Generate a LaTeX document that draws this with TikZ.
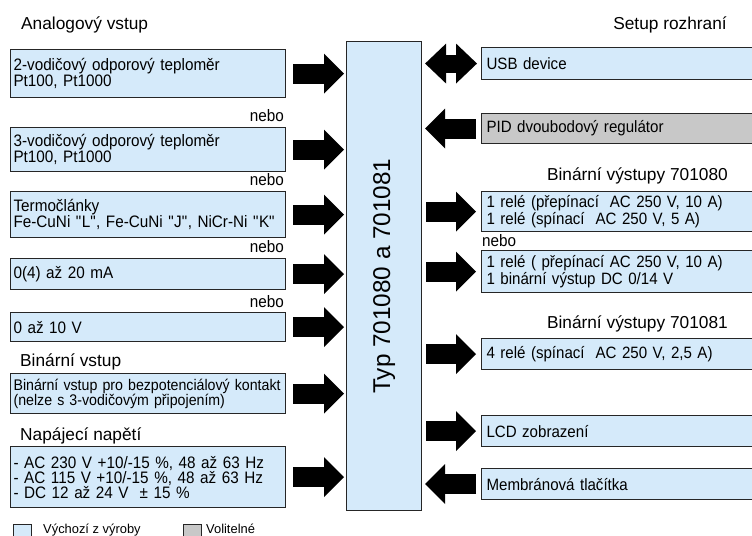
\documentclass[tikz,border=0pt]{standalone}
\usepackage{fontspec}
\setmainfont{Liberation Sans}
\newfontfamily\boxfont{Liberation Sans}[FakeStretch=0.92]
\usetikzlibrary{arrows.meta}
\definecolor{boxblue}{RGB}{213,234,250}
\definecolor{boxgrey}{RGB}{200,200,200}

\begin{document}
\begin{tikzpicture}[x=1bp, y=-1bp,
    box/.style={draw=black!85, line width=1.1bp, fill=boxblue, anchor=north west,
        inner ysep=0pt, align=left, font=\boxfont\fontsize{16.6bp}{15bp}\selectfont},
    inbox/.style={box, inner xsep=3bp, minimum width=275bp, text width=269bp},
    outbox/.style={box, inner xsep=5bp, minimum width=290bp, text width=280bp,
        font=\boxfont\fontsize{16.4bp}{17bp}\selectfont},
    head/.style={inner sep=0pt, font=\fontsize{17.3bp}{18bp}\selectfont},
    nebo/.style={inner sep=0pt, font=\boxfont\fontsize{16.6bp}{15bp}\selectfont},
    key/.style={draw=black!85, line width=1bp, anchor=north west, minimum width=18bp, minimum height=18bp, inner sep=0pt},
    keytext/.style={inner sep=0pt, anchor=base west, font=\fontsize{12.9bp}{13bp}\selectfont},
    blockarrow/.style={line width=20bp, -{Triangle[width=40bp, length=20bp, line width=0pt]}},
    twoway/.style={line width=18bp, {Triangle[width=40bp, length=21bp, line width=0pt]}-{Triangle[width=40bp, length=21bp, line width=0pt]}}
]

    \useasboundingbox (0,0) rectangle (752,536);
    \clip (0,0) rectangle (752,536);

    \node [box, minimum width=75bp, minimum height=469bp] (main) at (346,41) {};
    \node [rotate=90, inner sep=0pt, font=\fontsize{24.3bp}{25bp}\selectfont] (maintext) at (main.center) {Typ 701080 a 701081};

    \node [head, anchor=base west] (analog) at (21,30) {Analogový vstup};
    \node [inbox, minimum height=48bp] (rtd2) at (10,49) {2-vodičový odporový teploměr\\Pt100, Pt1000};

    \node [nebo, anchor=base east] (nebo1) at (284,122) {nebo};
    \node [inbox, minimum height=44bp] (rtd3) at (10,127) {3-vodičový odporový teploměr\\Pt100, Pt1000};

    \node [nebo, anchor=base east] (nebo2) at (284,186) {nebo};
    \node [inbox, minimum height=46bp] (thermo) at (10,191) {Termočlánky\\Fe-CuNi \textquotedbl L\textquotedbl, Fe-CuNi \textquotedbl J\textquotedbl, NiCr-Ni \textquotedbl K\textquotedbl};

    \node [nebo, anchor=base east] (nebo3) at (284,253) {nebo};
    \node [inbox, minimum height=31bp] (curr) at (10,258) {0(4) až 20 mA};

    \node [nebo, anchor=base east] (nebo4) at (284,307) {nebo};
    \node [inbox, minimum height=29bp] (volt) at (10,312) {0 až 10 V};

    \node [head, anchor=base west] (binlabel) at (20,366) {Binární vstup};
    \node [inbox, minimum height=40bp, font=\boxfont\fontsize{15.4bp}{15bp}\selectfont] (binin) at (10,373) {\mbox{Binární vstup pro bezpotenciálový kontakt}\\(nelze s 3-vodičovým připojením)};

    \node [head, anchor=base west] (supplylabel) at (20,440) {Napájecí napětí};
    \node [inbox, minimum height=61bp] (supply) at (10,446) {- AC 230 V +10/-15 \%, 48 až 63 Hz\\- AC 115 V +10/-15 \%, 48 až 63 Hz\\- DC 12 až 24 V\ \ ± 15 \%};

    \draw [blockarrow, shorten <=7bp, shorten >=2bp] (rtd2.east) -- (rtd2.east -| main.west);
    \draw [blockarrow, shorten <=7bp, shorten >=2bp] (rtd3.east) -- (rtd3.east -| main.west);
    \draw [blockarrow, shorten <=7bp, shorten >=2bp] (thermo.east) -- (thermo.east -| main.west);
    \draw [blockarrow, shorten <=7bp, shorten >=2bp] (curr.east) -- (curr.east -| main.west);
    \draw [blockarrow, shorten <=7bp, shorten >=2bp] (volt.east) -- (volt.east -| main.west);
    \draw [blockarrow, shorten <=7bp, shorten >=2bp] (binin.east) -- (binin.east -| main.west);
    \draw [blockarrow, shorten <=7bp, shorten >=2bp] (supply.east) -- (supply.east -| main.west);

    \node [head, anchor=base east] (setup) at (727,30) {Setup rozhraní};
    \node [outbox, minimum height=32bp] (usb) at (481,47) {USB device};
    \node [outbox, minimum height=30bp, fill=boxgrey] (pid) at (481,113) {PID dvoubodový regulátor};

    \node [head, anchor=base east] (out80) at (728,181) {Binární výstupy 701080};
    \node [outbox, minimum height=40bp] (rel80a) at (481,191) {1 relé (přepínací\ \ AC 250 V, 10 A)\\1 relé (spínací\ \ AC 250 V, 5 A)};
    \node [nebo, anchor=base west] (nebo5) at (482,247) {nebo};
    \node [outbox, minimum height=42bp] (rel80b) at (481,250) {1 relé ( přepínací AC 250 V, 10 A)\\1 binární výstup DC 0/14 V};

    \node [head, anchor=base east] (out81) at (728,328) {Binární výstupy 701081};
    \node [outbox, minimum height=31bp] (rel81) at (481,338) {4 relé (spínací\ \ AC 250 V, 2,5 A)};

    \node [outbox, minimum height=31bp] (lcd) at (481,415) {LCD zobrazení};
    \node [outbox, minimum height=31bp] (keys) at (481,468) {Membránová tlačítka};

    \draw [twoway, shorten <=3bp, shorten >=4bp] (main.east |- usb.west) -- (usb.west);
    \draw [blockarrow, shorten <=5bp, shorten >=3bp] (pid.west) -- (pid.west -| main.east);
    \draw [blockarrow, shorten <=4bp, shorten >=5bp] (main.east |- rel80a.west) -- (rel80a.west);
    \draw [blockarrow, shorten <=4bp, shorten >=5bp] (main.east |- rel80b.west) -- (rel80b.west);
    \draw [blockarrow, shorten <=4bp, shorten >=5bp] (main.east |- rel81.west) -- (rel81.west);
    \draw [blockarrow, shorten <=4bp, shorten >=5bp] (main.east |- lcd.west) -- (lcd.west);
    \draw [blockarrow, shorten <=5bp, shorten >=3bp] (keys.west) -- (keys.west -| main.east);

    \node [key, fill=boxblue] (keyblue) at (13,524) {};
    \node [keytext] (keybluetext) at (43,533) {Výchozí z výroby};
    \node [key, fill=boxgrey] (keygrey) at (183,524) {};
    \node [keytext] (keygreytext) at (206,533) {Volitelné};

\end{tikzpicture}
\end{document}
